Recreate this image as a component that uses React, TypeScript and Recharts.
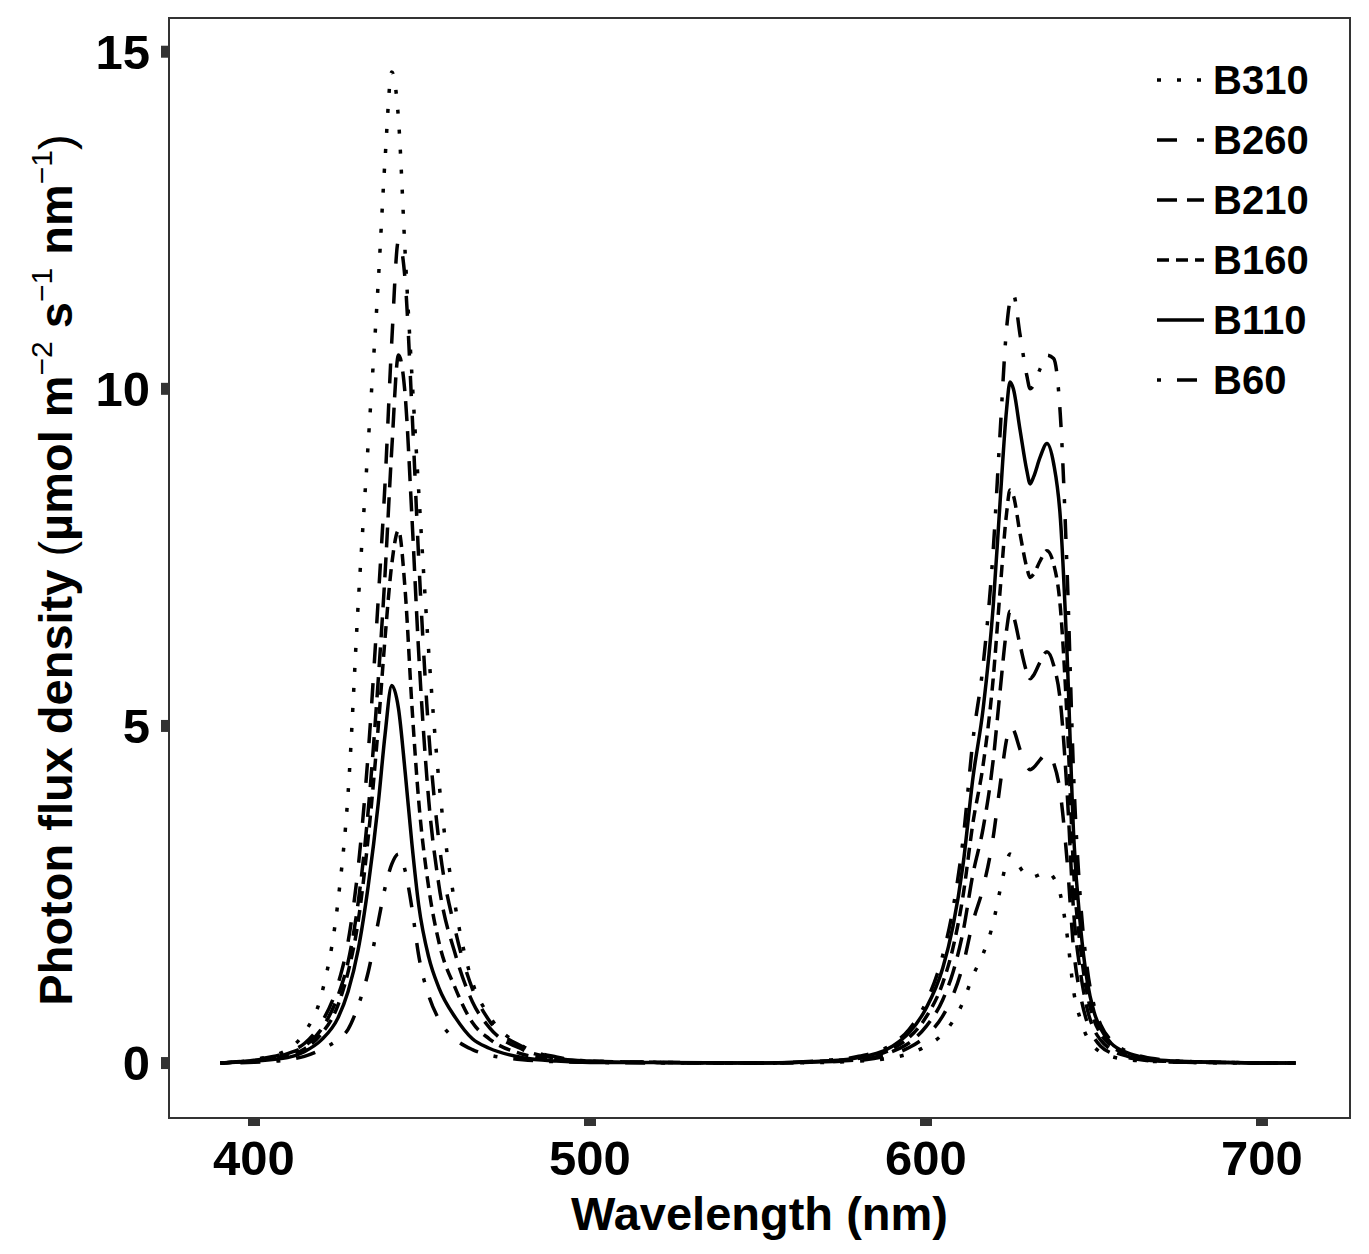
import { LineChart, Line, XAxis, YAxis, ReferenceArea } from 'recharts'

// wavelength (nm), shared by every spectrum
const wavelength = [
  390, 400, 410, 415, 420, 425, 428, 431, 434, 437, 439, 441, 443, 445, 447, 449, 452, 455, 460, 465,
  470, 480, 490, 500, 520, 550, 570, 580, 590, 595, 600, 605, 608, 611, 614, 617, 620, 622, 624, 625,
  626, 628, 630, 631, 632, 634, 636, 638, 640, 642, 644, 646, 648, 650, 652, 655, 660, 665, 670, 680,
  690, 700, 710,
]

const b310 = [
  0, 0.05, 0.2, 0.45, 1.0, 2.4, 4.0, 6.8, 9.2, 11.6, 13.4, 14.7, 14.0, 12.0, 10.2, 8.5, 6.1, 4.2, 2.3, 1.2,
  0.7, 0.25, 0.08, 0.03, 0.01, 0, 0.01, 0.03, 0.08, 0.14, 0.25, 0.43, 0.62, 0.9, 1.3, 1.62, 2.08, 2.55, 2.98, 3.1,
  3.07, 2.9, 2.78, 2.75, 2.76, 2.8, 2.84, 2.75, 2.5, 1.9, 1.05, 0.64, 0.38, 0.24, 0.16, 0.1, 0.05, 0.03, 0.02, 0.01,
  0, 0, 0,
]
const b260 = [
  0, 0.05, 0.16, 0.29, 0.59, 1.17, 1.8, 2.9, 4.6, 6.9, 8.6, 10.7, 12.2, 11.6, 9.7, 7.5, 4.9, 3.3, 1.95, 1.1,
  0.63, 0.24, 0.09, 0.03, 0.01, 0, 0.02, 0.04, 0.13, 0.23, 0.4, 0.7, 1.0, 1.45, 2.1, 2.6, 3.35, 4.1, 4.8, 5.0,
  4.95, 4.65, 4.4, 4.35, 4.38, 4.5, 4.6, 4.45, 4.0, 3.0, 1.66, 1.0, 0.6, 0.38, 0.25, 0.15, 0.08, 0.04, 0.02, 0.01,
  0.01, 0, 0,
]
const b210 = [
  0, 0.04, 0.14, 0.25, 0.5, 1.0, 1.5, 2.38, 3.75, 5.7, 7.25, 9.1, 10.5, 9.9, 8.1, 6.1, 3.9, 2.65, 1.6, 0.91,
  0.53, 0.2, 0.07, 0.03, 0.01, 0, 0.02, 0.05, 0.17, 0.3, 0.54, 0.94, 1.34, 1.94, 2.81, 3.48, 4.49, 5.49, 6.43, 6.7,
  6.63, 6.2, 5.8, 5.7, 5.75, 5.95, 6.1, 5.9, 5.36, 4.02, 2.21, 1.34, 0.8, 0.5, 0.34, 0.2, 0.1, 0.05, 0.03, 0.01,
  0.01, 0, 0,
]
const b160 = [
  0, 0.04, 0.11, 0.21, 0.43, 0.86, 1.35, 2.1, 3.35, 5.0, 6.3, 7.4, 7.9, 7.0, 5.3, 3.9, 2.6, 1.8, 1.1, 0.6,
  0.36, 0.13, 0.05, 0.02, 0.01, 0, 0.03, 0.07, 0.21, 0.38, 0.68, 1.19, 1.7, 2.47, 3.57, 4.42, 5.7, 6.97, 8.16, 8.5,
  8.42, 7.85, 7.35, 7.2, 7.25, 7.45, 7.6, 7.4, 6.75, 5.1, 2.8, 1.7, 1.02, 0.64, 0.43, 0.26, 0.13, 0.07, 0.03, 0.02,
  0.01, 0, 0,
]
const b110 = [
  0, 0.03, 0.08, 0.17, 0.34, 0.67, 1.06, 1.68, 2.63, 3.86, 4.87, 5.6, 5.26, 4.31, 3.25, 2.35, 1.57, 1.12, 0.67, 0.36,
  0.22, 0.08, 0.03, 0.01, 0.01, 0, 0.03, 0.08, 0.25, 0.45, 0.81, 1.41, 2.02, 2.93, 4.24, 5.25, 6.77, 8.28, 9.7, 10.1,
  10.0, 9.39, 8.79, 8.59, 8.69, 8.99, 9.19, 8.89, 8.08, 6.06, 3.33, 2.02, 1.21, 0.76, 0.51, 0.3, 0.15, 0.08, 0.04, 0.02,
  0.01, 0, 0,
]
const b60 = [
  0, 0.01, 0.05, 0.1, 0.2, 0.35, 0.5, 0.85, 1.35, 2.1, 2.6, 2.95, 3.1, 2.85, 2.3, 1.6, 1.0, 0.65, 0.35, 0.2,
  0.12, 0.05, 0.02, 0.01, 0, 0, 0.04, 0.1, 0.28, 0.5, 0.9, 1.6, 2.28, 3.3, 4.8, 5.9, 7.6, 9.3, 10.9, 11.3,
  11.4, 10.8, 10.2, 10.0, 10.05, 10.3, 10.5, 10.45, 9.6, 7.3, 4.2, 2.4, 1.4, 0.86, 0.57, 0.34, 0.17, 0.09, 0.05, 0.02,
  0.01, 0, 0,
]

const seriesNames = ['B310', 'B260', 'B210', 'B160', 'B110', 'B60']
const seriesValues = [b310, b260, b210, b160, b110, b60]
const xTicks = [400, 500, 600, 700]
const yTicks = [0, 5, 10, 15]

const dashes: Record<string, string | undefined> = {
  B310: '4 16',
  B260: '20 20',
  B210: '20 10',
  B160: '12 7',
  B110: undefined,
  B60: '4 16 20 16',
}

const data = wavelength.map((wl, i) => {
  const row: Record<string, number> = { wl }
  seriesNames.forEach((name, s) => {
    row[name] = seriesValues[s][i]
  })
  return row
})

const FONT = '"Liberation Sans", Arial, sans-serif'
const X_DOMAIN: [number, number] = [374.7, 726.2]
const Y_DOMAIN: [number, number] = [-0.815, 15.5]

// legend drawn over the panel, top right (like ggplot legend.position inside)
function LegendBox() {
  return (
    <div style={{ position: 'absolute', left: 1157, top: 50, fontFamily: FONT, fontWeight: 700 }}>
      {seriesNames.map((name) => (
        <div key={name} style={{ display: 'flex', alignItems: 'center', height: 60 }}>
          <svg width={48} height={10} style={{ display: 'block' }}>
            <line x1={0} x2={47} y1={5} y2={5} stroke="#000" strokeWidth={3.5}
              strokeDasharray={dashes[name]} />
          </svg>
          <span style={{ marginLeft: 8, fontSize: 40, lineHeight: '60px', color: '#000' }}>{name}</span>
        </div>
      ))}
    </div>
  )
}

function YTitle() {
  const sup = { fontSize: 30, fontWeight: 400 }
  return (
    <text
      x={72}
      y={570}
      transform="rotate(-90, 72, 570)"
      textAnchor="middle"
      fontFamily={FONT}
      fontWeight={700}
      fontSize={47}
      fill="#000"
    >
      <tspan>Photon flux density </tspan>
      <tspan fontWeight={400}>(</tspan>
      <tspan>µmol m</tspan>
      <tspan dy={-20} {...sup}>−2</tspan>
      <tspan dy={20}> s</tspan>
      <tspan dy={-20} {...sup}>−1</tspan>
      <tspan dy={20}> nm</tspan>
      <tspan dy={-20} {...sup}>−1</tspan>
      <tspan dy={20} fontWeight={400}>)</tspan>
    </text>
  )
}

export default function App() {
  return (
    <div style={{ position: 'absolute', left: 0, top: 0, width: 1369, height: 1254, background: '#fff' }}>
      <LineChart width={1369} height={1254} data={data} margin={{ top: 18, right: 19, left: 0, bottom: 0 }}>
        <ReferenceArea
          x1={X_DOMAIN[0]}
          x2={X_DOMAIN[1]}
          y1={Y_DOMAIN[0]}
          y2={Y_DOMAIN[1]}
          fill="none"
          stroke="#333"
          strokeWidth={2}
          ifOverflow="visible"
        />
        <XAxis
          dataKey="wl"
          type="number"
          domain={X_DOMAIN}
          allowDataOverflow
          ticks={xTicks}
          height={136}
          axisLine={false}
          tickLine={{ stroke: '#333', strokeWidth: 12 }}
          tickSize={8}
          tickMargin={14}
          tick={{ fill: '#000', fontSize: 49, fontWeight: 700, fontFamily: FONT }}
          label={{
            content: ({ viewBox }: any) => (
              <text
                x={viewBox.x + viewBox.width / 2}
                y={1230}
                textAnchor="middle"
                fontFamily={FONT}
                fontWeight={700}
                fontSize={47}
                fill="#000"
              >
                Wavelength (nm)
              </text>
            ),
          }}
        />
        <YAxis
          type="number"
          domain={Y_DOMAIN}
          allowDataOverflow
          ticks={yTicks}
          width={169}
          axisLine={false}
          tickLine={{ stroke: '#333', strokeWidth: 12 }}
          tickSize={8}
          tickMargin={11}
          tick={{ fill: '#000', fontSize: 49, fontWeight: 700, fontFamily: FONT }}
          label={{ content: () => <YTitle /> }}
        />
        {seriesNames.map((name) => (
          <Line
            key={name}
            dataKey={name}
            type="monotone"
            stroke="#000"
            strokeWidth={3.5}
            strokeDasharray={dashes[name]}
            dot={false}
            activeDot={false}
            isAnimationActive={false}
          />
        ))}
      </LineChart>
      <LegendBox />
    </div>
  )
}
